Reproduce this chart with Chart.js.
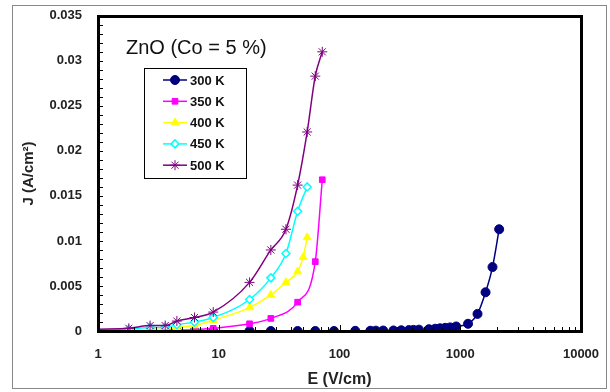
<!DOCTYPE html>
<html>
<head>
<meta charset="utf-8">
<script src="https://cdn.jsdelivr.net/npm/chart.js@4/dist/chart.umd.min.js"></script>
<style>
  html, body { margin: 0; padding: 0; background: #fff; }
  #wrap { width: 610px; height: 392px; }
</style>
</head>
<body>
<div id="wrap"><canvas id="jeChart" width="610" height="392"></canvas></div>
<script>
// J-E curves, ZnO doped with 5 % Co, at several temperatures
const labels = ['300 K', '350 K', '400 K', '450 K', '500 K'];

const e300 = [1, 2.7, 3.6, 4.5, 6.3, 9, 18, 27, 45, 63, 90, 135, 180, 200, 230, 280, 325, 375, 410, 455, 550, 620, 680, 750, 825, 925, 1160, 1390, 1620, 1850, 2100];
const j300 = [0, 0, 0, 0, 0, 0, 0, 0, 0, 0, 0, 0.00002, 0.00003, 0.00004, 0.00005, 0.00006, 0.00008, 0.0001, 0.00012, 0.00015, 0.0002, 0.00025, 0.0003, 0.00035, 0.0004, 0.0005, 0.0008, 0.0019, 0.0043, 0.0071, 0.0113];

const e350 = [1, 3.6, 4.5, 6.3, 9, 18, 27, 45, 63, 72];
const j350 = [0, 0.0001, 0.0001, 0.00015, 0.0003, 0.0008, 0.0014, 0.0032, 0.0077, 0.0168];

const e400 = [1, 1.8, 2.7, 3.6, 4.5, 6.3, 9, 18, 27, 36, 45, 50, 54];
const j400 = [0, 0, 0.0002, 0.0002, 0.0004, 0.0006, 0.0012, 0.0026, 0.004, 0.0054, 0.0066, 0.0082, 0.0104];

const e450 = [1, 1.8, 2.7, 3.6, 4.5, 6.3, 9, 18, 27, 36, 45, 54];
const j450 = [0.0001, 0.0002, 0.0004, 0.0004, 0.0007, 0.001, 0.0015, 0.0035, 0.0059, 0.0086, 0.0133, 0.016];

const e500 = [1, 1.8, 2.7, 3.6, 4.5, 6.3, 9, 18, 27, 36, 45, 54, 63, 72];
const j500 = [0.0002, 0.0003, 0.0006, 0.0006, 0.0011, 0.0015, 0.0021, 0.0054, 0.009, 0.0113, 0.0162, 0.0221, 0.0283, 0.031];

const xTicks = [1, 10, 100, 1000, 10000];
const yTicks = [0, 0.005, 0.01, 0.015, 0.02, 0.025, 0.03, 0.035];

const colors = ['#000080', '#FF00FF', '#FFFF00', '#00FFFF', '#800080'];
const styles = ['circle', 'rect', 'triangle', 'rectRot', 'star'];
const fills = ['#000080', '#FF00FF', '#FFFF00', '#FFFFFF', '#800080'];
const radii = [4.5, 4, 4.5, 4, 5];

function pairs(xs, ys) {
    return xs.map((x, i) => ({ x: x, y: ys[i] }));
}

const series = [[e300, j300], [e350, j350], [e400, j400], [e450, j450], [e500, j500]];

const datasets = series.map((s, i) => ({
    label: labels[i],
    data: pairs(s[0], s[1]),
    borderColor: colors[i],
    backgroundColor: fills[i],
    pointBorderColor: colors[i],
    pointBackgroundColor: fills[i],
    pointStyle: styles[i],
    // no marker on the E = 1 start point, it sits on the axis
    pointRadius: s[0].map(x => (x <= 1 ? 0 : radii[i])),
    pointBorderWidth: i === 3 ? 1.5 : 1,
    borderWidth: 1.5,
    cubicInterpolationMode: 'monotone',
    order: 5 - i
}));

const fontFamily = 'Liberation Sans, Arial, sans-serif';
const tickFont = { family: fontFamily, size: 13, weight: 'bold' };

// outer frame, plot frame, inside ticks, y title, inner title and legend box
const decorations = {
    id: 'decorations',
    beforeDraw(chart) {
        const c = chart.ctx;
        c.save();
        c.fillStyle = '#fff';
        c.fillRect(0, 0, chart.width, chart.height);
        c.strokeStyle = '#888';
        c.lineWidth = 1;
        c.strokeRect(12.5, 5.5, 594, 383);
        c.restore();
    },
    afterDraw(chart) {
        const c = chart.ctx;
        const a = chart.chartArea;
        const xs = chart.scales.x;
        const ys = chart.scales.y;
        const l = Math.round(a.left), r = Math.round(a.right);
        const t = Math.round(a.top), b = Math.round(a.bottom);
        c.save();
        c.fillStyle = '#000';
        // y ticks every 0.001, pointing inward
        for (let k = 0; k <= 35; k++) {
            const py = Math.round(ys.getPixelForValue(k / 1000));
            c.fillRect(l, py, 5, 1);
        }
        // x log ticks, pointing up
        for (let d = 1; d < 10000; d *= 10) {
            for (let m = 1; m <= 9; m++) {
                const px = Math.round(xs.getPixelForValue(d * m));
                const len = m === 1 ? 6 : 4;
                c.fillRect(px, b - len, 1, len);
            }
        }
        // plot frame
        c.fillRect(l - 1, t - 1, r - l + 3, 3);
        c.fillRect(l - 1, b - 1, r - l + 3, 3);
        c.fillRect(l - 1, t - 1, 3, b - t + 3);
        c.fillRect(r - 1, t - 1, 3, b - t + 3);

        // y axis title
        c.save();
        c.translate(29, (t + b) / 2);
        c.rotate(-Math.PI / 2);
        c.fillStyle = '#222';
        c.font = 'bold 15px ' + fontFamily;
        c.textAlign = 'center';
        c.textBaseline = 'middle';
        c.fillText('J (A/cm²)', 0, 0);
        c.restore();

        // title inside the plot
        c.fillStyle = '#111';
        c.font = '20px ' + fontFamily;
        c.textBaseline = 'middle';
        c.textAlign = 'left';
        c.fillText('ZnO (Co = 5 %)', 126, 48);

        // legend box
        const bx = 144, by = 68, bw = 102, bh = 110;
        c.fillStyle = '#fff';
        c.fillRect(bx, by, bw, bh);
        c.lineWidth = 1;
        c.strokeStyle = '#000';
        c.strokeRect(bx + 0.5, by + 0.5, bw, bh);
        c.font = 'bold 13px ' + fontFamily;
        chart.data.datasets.forEach((ds, i) => {
            const ry = 80 + i * 21.3;
            c.strokeStyle = ds.borderColor;
            c.lineWidth = 1.5;
            c.beginPath();
            c.moveTo(163, ry);
            c.lineTo(187, ry);
            c.stroke();
            c.fillStyle = ds.pointBackgroundColor;
            c.strokeStyle = ds.pointBorderColor;
            c.lineWidth = ds.pointBorderWidth;
            Chart.helpers.drawPoint(c, {
                pointStyle: ds.pointStyle,
                radius: radii[i],
                borderWidth: ds.pointBorderWidth
            }, 175, ry);
            c.fillStyle = '#111';
            c.fillText(ds.label, 190, ry + 1);
        });
        c.restore();
    }
};

new Chart(document.getElementById('jeChart'), {
    type: 'line',
    data: { datasets: datasets },
    options: {
        responsive: false,
        animation: false,
        layout: { padding: { left: 0, right: 29, top: 11, bottom: 0 } },
        plugins: {
            legend: { display: false },
            tooltip: { enabled: false }
        },
        scales: {
            x: {
                type: 'logarithmic',
                min: 1,
                max: 10000,
                afterBuildTicks: s => { s.ticks = xTicks.map(v => ({ value: v })); },
                afterFit: s => { s.height = 61; },
                grid: { display: false },
                border: { display: false },
                ticks: {
                    color: '#222',
                    font: tickFont,
                    padding: 8,
                    maxRotation: 0,
                    callback: v => String(v)
                },
                title: {
                    display: true,
                    text: 'E (V/cm)',
                    color: '#222',
                    font: { family: fontFamily, size: 16, weight: 'bold' },
                    padding: { top: 0, bottom: 3 }
                }
            },
            y: {
                type: 'linear',
                min: 0,
                max: 0.035,
                afterBuildTicks: s => { s.ticks = yTicks.map(v => ({ value: v })); },
                afterFit: s => { s.width = 98; },
                grid: { display: false },
                border: { display: false },
                ticks: {
                    color: '#222',
                    font: tickFont,
                    padding: 8,
                    callback: v => String(Number(v.toFixed(3)))
                }
            }
        }
    },
    plugins: [decorations]
});
</script>
</body>
</html>
